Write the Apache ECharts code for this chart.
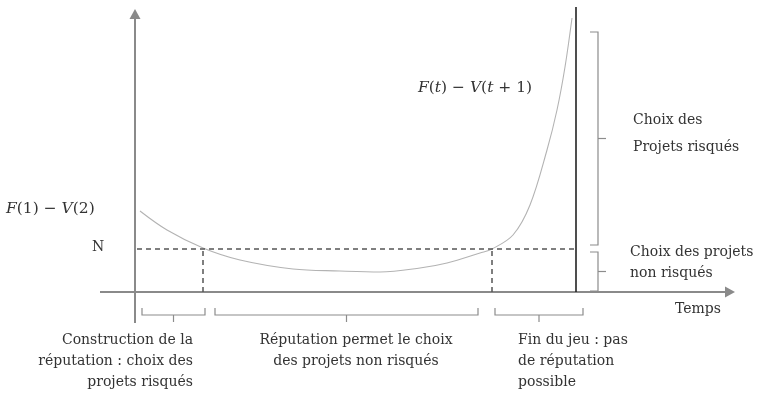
<!DOCTYPE html>
<html>
<head>
<meta charset="utf-8">
<script src="https://cdn.jsdelivr.net/npm/echarts@6/dist/echarts.min.js"></script>
<style>
  html, body { margin: 0; background: #fff; }
  #chart { width: 758px; height: 393px; }
</style>
</head>
<body>
<div id="chart"></div>
<script>
// F(t) - V(t+1) as (t, value)
const curveT = [5, 32, 68, 105, 158, 205, 245, 285, 312, 345, 357, 378, 395, 412, 422, 430, 437];
const curveV = [81, 62, 44, 32, 23, 21, 20, 24, 29, 39, 43, 57, 87, 142, 182, 225, 274];
const levelN = 43;
const crossT = [68, 357];      // curve meets N
const endT = 441;              // end of the game
const endTop = 285;
const bottomBraces = [[7, 70], [80, 343], [360, 448]];
const rightBraces = [[47, 260], [1, 40]];

const axisColor = '#8a8a8a';
const textColor = '#333';
const font = '14px "DejaVu Serif", serif';
const mathFont = '15.5px "DejaVu Serif", serif';
const mathRich = { i: { fontStyle: 'italic', fontFamily: 'DejaVu Serif', fontSize: 15.5 } };

const chart = echarts.init(document.getElementById('chart'));

function bottomBrace(params, api) {
  const a = api.coord([api.value(0), api.value(2)]);
  const b = api.coord([api.value(1), api.value(2)]);
  const mid = (a[0] + b[0]) / 2;
  const style = { stroke: '#8c8c8c', lineWidth: 1.2, fill: null };
  return {
    type: 'group',
    children: [
      { type: 'polyline', shape: { points: [[a[0], a[1] - 7], [a[0], a[1]], [b[0], b[1]], [b[0], b[1] - 7]] }, style },
      { type: 'line', shape: { x1: mid, y1: a[1], x2: mid, y2: a[1] + 7 }, style },
    ],
  };
}

function rightBrace(params, api) {
  const a = api.coord([api.value(2), api.value(0)]);
  const b = api.coord([api.value(2), api.value(1)]);
  const mid = (a[1] + b[1]) / 2;
  const style = { stroke: '#8c8c8c', lineWidth: 1.2, fill: null };
  return {
    type: 'group',
    children: [
      { type: 'polyline', shape: { points: [[a[0] - 8, a[1]], [a[0], a[1]], [b[0], b[1]], [b[0] - 8, b[1]]] }, style },
      { type: 'line', shape: { x1: a[0], y1: mid, x2: a[0] + 8, y2: mid }, style },
    ],
  };
}

const dashed = { color: '#555', width: 1.5, type: [5, 4] };

chart.setOption({
  animation: false,
  grid: { left: 100, right: 28, top: 5, bottom: 70 },
  xAxis: { type: 'value', min: -35, max: 595, show: false },
  yAxis: { type: 'value', min: -31, max: 287, show: false },
  series: [
    {
      type: 'line',
      data: curveT.map((t, i) => [t, curveV[i]]),
      smooth: 0.35,
      showSymbol: false,
      lineStyle: { color: '#b3b3b3', width: 1.1 },
      markLine: {
        silent: true,
        symbol: ['none', 'none'],
        label: { show: false },
        data: [
          [{ coord: [-35, 0], symbol: 'none', lineStyle: { color: axisColor, width: 2, type: 'solid' } },
           { coord: [595, 0], symbol: 'triangle', symbolSize: [11, 10], symbolRotate: -90 }],
          [{ coord: [0, -31], symbol: 'none', lineStyle: { color: axisColor, width: 2, type: 'solid' } },
           { coord: [0, 278], symbol: 'triangle', symbolSize: [11, 10] }],
          [{ coord: [2, levelN], lineStyle: dashed }, { coord: [endT, levelN] }],
          ...crossT.map((t) => [{ coord: [t, 0], lineStyle: dashed }, { coord: [t, levelN] }]),
          [{ coord: [endT, 0], lineStyle: { color: '#222', width: 1.6, type: 'solid' } }, { coord: [endT, endTop] }],
        ],
      },
    },
    {
      type: 'custom',
      renderItem: bottomBrace,
      data: bottomBraces.map((r) => [r[0], r[1], -23]),
      silent: true,
    },
    {
      type: 'custom',
      renderItem: rightBrace,
      data: rightBraces.map((r) => [r[0], r[1], 463]),
      silent: true,
    },
  ],
  graphic: [
    { type: 'text', style: { x: 418, y: 88, text: '{i|F}({i|t}) − {i|V}({i|t} + 1)', font: mathFont, fill: textColor, verticalAlign: 'middle', rich: mathRich } },
    { type: 'text', style: { x: 6, y: 209, text: '{i|F}(1) − {i|V}(2)', font: mathFont, fill: textColor, verticalAlign: 'middle', rich: mathRich } },
    { type: 'text', style: { x: 92, y: 247, text: 'N', font, fill: textColor, verticalAlign: 'middle' } },
    { type: 'text', style: { x: 633, y: 107, text: 'Choix des\nProjets risqués', font, fill: textColor, lineHeight: 27, verticalAlign: 'top' } },
    { type: 'text', style: { x: 630, y: 242, text: 'Choix des projets\nnon risqués', font, fill: textColor, lineHeight: 21, verticalAlign: 'top' } },
    { type: 'text', style: { x: 675, y: 309, text: 'Temps', font, fill: textColor, verticalAlign: 'middle' } },
    { type: 'text', style: { x: 193, y: 330, text: 'Construction de la\nréputation : choix des\nprojets risqués', font, fill: textColor, lineHeight: 21, align: 'right', verticalAlign: 'top' } },
    { type: 'text', style: { x: 356, y: 330, text: 'Réputation permet le choix\ndes projets non risqués', font, fill: textColor, lineHeight: 21, align: 'center', verticalAlign: 'top' } },
    { type: 'text', style: { x: 518, y: 330, text: 'Fin du jeu : pas\nde réputation\npossible', font, fill: textColor, lineHeight: 21, verticalAlign: 'top' } },
  ],
});

window.addEventListener('resize', () => chart.resize());
</script>
</body>
</html>
